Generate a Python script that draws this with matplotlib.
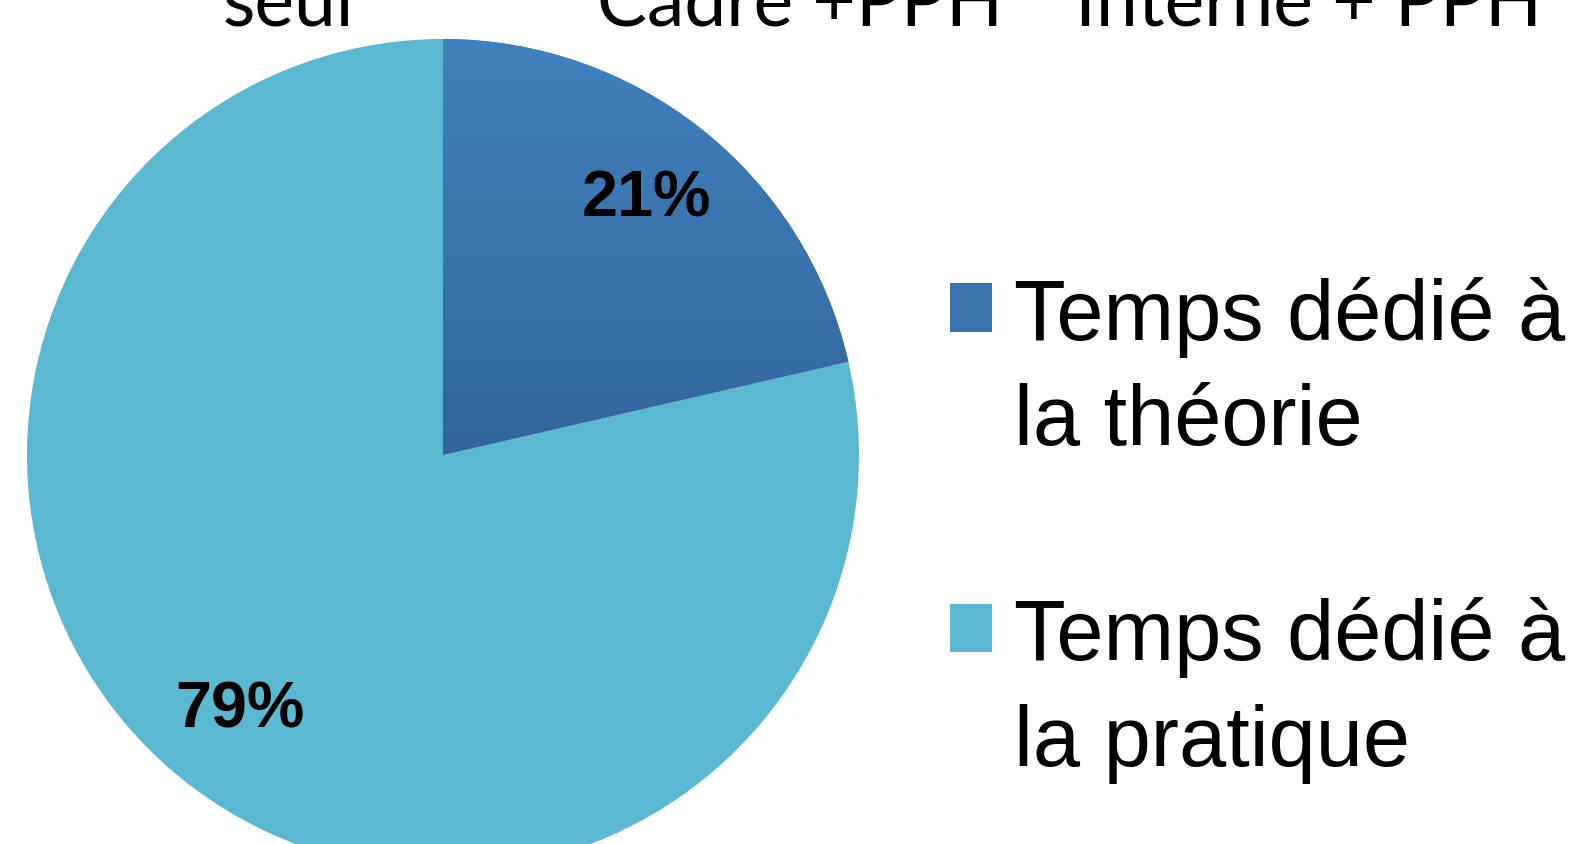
import numpy as np
import matplotlib
matplotlib.use("Agg")
import matplotlib.pyplot as plt
from matplotlib.patches import Rectangle
from matplotlib.legend_handler import HandlerPatch
from matplotlib.colors import LinearSegmentedColormap

# data
labels = ["Temps dédié à\nla théorie", "Temps dédié à\nla pratique"]
values = [21.4, 78.6]
colors = ["#3973ad", "#5bb8d1"]
grad_top, grad_bottom = "#4081bf", "#33659b"   # dark slice is shaded top->bottom
headers = ["seul", "Cadre +PPH", "Interne + PPH"]
header_x = [288, 800, 1309]

W, H = 1585, 844
fig = plt.figure(figsize=(W / 100, H / 100), dpi=100)
ax = fig.add_axes([0, 0, 1, 1])

cx, cy, r = 443, H - 455, 416
wedges, texts, autotexts = ax.pie(
    values, colors=colors, startangle=90, counterclock=False,
    center=(cx, cy), radius=r, autopct="%.0f%%", pctdistance=0.785,
    wedgeprops=dict(linewidth=0),
    textprops=dict(fontsize=46.5, fontweight="bold", family="Liberation Sans"))

# vertical gradient on the dark slice
cmap = LinearSegmentedColormap.from_list("g", [grad_bottom, grad_top])
grad = np.linspace(0, 1, 256).reshape(-1, 1)
im = ax.imshow(grad, cmap=cmap, origin="lower", aspect="auto",
               extent=(cx, cx + r, cy, cy + r), zorder=wedges[0].get_zorder())
im.set_clip_path(wedges[0])
for t in autotexts:
    t.set_zorder(5)

ax.set_xlim(0, W)
ax.set_ylim(0, H)
ax.set_aspect("equal")
ax.axis("off")

# headers cut at the top of the picture
for name, x in zip(headers, header_x):
    ax.text(x, H - 25, name, ha="center", va="baseline", fontsize=54,
            family=["Lato", "DejaVu Sans"])


def square(legend, orig_handle, xdescent, ydescent, width, height, fontsize):
    return Rectangle((-xdescent, -ydescent + 0.75 * fontsize), width, height)


fs = 61
leg = ax.legend(wedges, labels, loc="upper left",
                bbox_to_anchor=(950, H - 277), bbox_transform=ax.transData,
                frameon=False, borderpad=0, borderaxespad=0,
                handlelength=0.5, handleheight=0.5, handletextpad=0.26,
                labelspacing=1.58, prop=dict(family="Liberation Sans", size=fs),
                handler_map={wedges[0]: HandlerPatch(patch_func=square),
                             wedges[1]: HandlerPatch(patch_func=square)})
for t in leg.get_texts():
    t.set_linespacing(1.41)

fig.savefig("out.png", dpi=100)
